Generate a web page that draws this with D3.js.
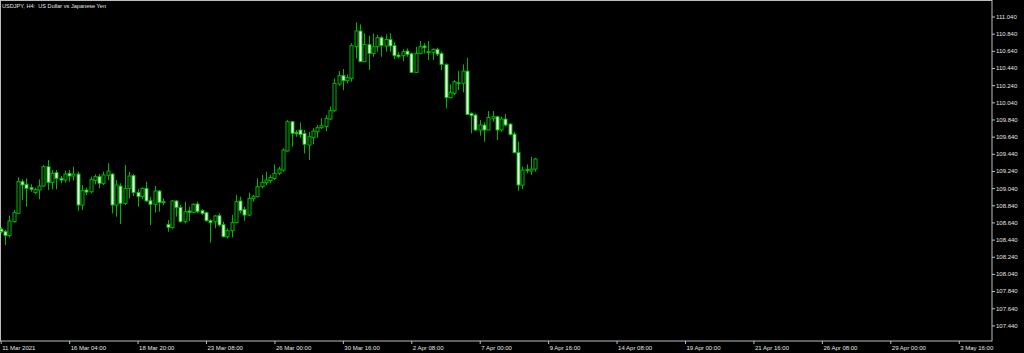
<!DOCTYPE html>
<html>
<head>
<meta charset="utf-8">
<script src="https://cdn.jsdelivr.net/npm/d3@7"></script>
<style>
  html, body { margin: 0; padding: 0; background: #000; }
  svg { display: block; }
  .axis text { fill: #e4e4e4; font-family: "Liberation Sans", Arial, sans-serif; font-size: 6px; }
  .axis line { stroke: #bdbdbd; }
  .axis path { display: none; }
</style>
</head>
<body>
<div id="chart"></div>
<script>
// USDJPY H4 candles
const open = [108.563,108.536,108.486,108.649,108.746,109.115,109.084,109.045,108.987,109.018,109.064,109.290,109.107,109.220,109.154,109.134,109.212,109.181,109.204,108.843,109.018,108.998,109.127,109.173,109.096,109.189,109.204,108.843,109.064,108.862,109.037,109.185,108.991,108.940,109.037,108.893,108.851,109.006,108.882,108.618,108.579,108.890,108.816,108.649,108.773,108.757,108.855,108.777,108.754,108.660,108.649,108.719,108.614,108.474,108.544,108.637,108.890,108.792,108.726,108.917,108.940,109.057,109.103,109.127,109.153,109.212,109.250,109.472,109.814,109.690,109.717,109.678,109.542,109.627,109.697,109.744,109.756,109.845,109.942,110.253,110.350,110.292,110.319,110.688,110.871,110.513,110.715,110.610,110.688,110.793,110.696,110.773,110.700,110.591,110.583,110.637,110.606,110.389,110.610,110.696,110.630,110.622,110.657,110.610,110.482,110.094,110.144,110.268,110.261,110.404,109.911,109.892,109.717,109.775,109.717,109.853,109.872,109.717,109.845,109.787,109.670,109.456,109.076,109.258,109.239,109.262];
const high = [108.583,108.552,108.719,108.785,109.165,109.142,109.154,109.084,109.045,109.142,109.309,109.367,109.251,109.251,109.181,109.243,109.251,109.290,109.231,109.076,109.045,109.173,109.200,109.204,109.231,109.329,109.212,109.134,109.096,109.309,109.231,109.204,109.026,109.049,109.115,108.940,109.064,109.018,108.921,108.668,108.901,108.901,108.843,108.882,108.824,108.862,108.882,108.792,108.765,108.676,108.726,108.746,108.649,108.571,108.726,108.960,108.940,108.824,108.987,108.960,109.154,109.193,109.231,109.193,109.317,109.289,109.503,109.833,109.822,109.717,109.806,109.717,109.697,109.736,109.775,109.853,109.892,109.989,110.319,110.404,110.428,110.366,110.727,110.972,110.948,110.843,110.816,110.843,110.824,110.816,110.832,110.843,110.738,110.622,110.657,110.668,110.622,110.688,110.754,110.727,110.754,110.668,110.676,110.630,110.494,110.249,110.299,110.404,110.482,110.560,109.923,109.911,109.833,109.806,109.938,109.938,109.884,109.872,109.903,109.794,109.697,109.581,109.289,109.317,109.406,109.394];
const low = [108.513,108.377,108.466,108.637,108.738,108.901,108.824,108.998,108.971,108.909,109.057,109.018,109.026,109.026,109.096,109.103,109.115,109.127,108.773,108.785,108.960,108.979,109.084,109.037,109.076,109.134,108.746,108.707,108.622,108.843,108.921,108.948,108.824,108.909,108.882,108.610,108.754,108.765,108.843,108.532,108.567,108.707,108.637,108.629,108.656,108.754,108.746,108.726,108.649,108.404,108.571,108.590,108.466,108.455,108.466,108.629,108.746,108.660,108.715,108.882,108.932,109.037,109.076,109.096,109.134,109.192,109.231,109.464,109.523,109.639,109.627,109.445,109.367,109.550,109.627,109.728,109.705,109.833,109.930,110.233,110.183,110.261,110.280,110.552,110.513,110.513,110.416,110.571,110.630,110.571,110.630,110.630,110.544,110.552,110.521,110.571,110.385,110.385,110.599,110.610,110.532,110.532,110.579,110.416,109.969,110.086,110.125,110.183,110.156,109.892,109.678,109.705,109.651,109.581,109.717,109.814,109.600,109.697,109.756,109.651,109.445,109.006,109.029,109.212,109.192,109.231];
const close = [108.532,108.486,108.656,108.754,109.115,109.076,109.037,109.026,109.026,109.064,109.290,109.107,109.212,109.154,109.134,109.204,109.181,109.204,108.843,109.010,108.994,109.142,109.173,109.096,109.193,109.239,108.843,109.076,108.862,109.037,109.181,108.987,108.940,109.037,108.890,108.851,109.006,108.874,108.870,108.583,108.890,108.812,108.649,108.765,108.757,108.851,108.765,108.746,108.660,108.637,108.715,108.610,108.474,108.544,108.637,108.882,108.777,108.726,108.921,108.940,109.057,109.107,109.134,109.165,109.212,109.262,109.484,109.814,109.678,109.674,109.666,109.550,109.639,109.705,109.744,109.767,109.853,109.942,110.261,110.350,110.292,110.327,110.700,110.871,110.513,110.715,110.610,110.688,110.793,110.700,110.773,110.696,110.583,110.571,110.630,110.599,110.389,110.610,110.688,110.676,110.618,110.657,110.602,110.482,110.094,110.156,110.280,110.257,110.404,109.899,109.884,109.717,109.775,109.717,109.864,109.872,109.717,109.845,109.775,109.666,109.453,109.076,109.250,109.243,109.262,109.379];

const priceTicks = [107.44,107.64,107.84,108.04,108.24,108.44,108.64,108.84,109.04,109.24,109.44,109.64,109.84,110.04,110.24,110.44,110.64,110.84,111.04];
const timeTickBars = [0,16,32,48,64,80,96,112,128,144,160,176,192,208,224];
const timeLabels = ["11 Mar 2021","16 Mar 04:00","18 Mar 20:00","23 Mar 08:00","26 Mar 00:00","30 Mar 16:00","2 Apr 08:00","7 Apr 00:00","9 Apr 16:00","14 Apr 08:00","19 Apr 00:00","21 Apr 16:00","26 Apr 08:00","29 Apr 00:00","3 May 16:00"];
const title = "USDJPY, H4:  US Dollar vs Japanese Yen";

const W = 1024, H = 353;
const plotRight = 992, plotBottom = 341;

const svg = d3.select("#chart").append("svg")
    .attr("width", W).attr("height", H)
    .style("background", "#000");

// bar index -> x, price -> y
const x = d3.scaleLinear().domain([0, 224]).range([0.7, 0.7 + 224 * 4.277]);
const y = d3.scaleLinear().domain([107.44, 111.04]).range([325.4, 16.5]);

const bars = open.map((o, i) => ({i, o, h: high[i], l: low[i], c: close[i]}));

// frame
svg.append("rect")
    .attr("x", 0.5).attr("y", 0.5)
    .attr("width", plotRight - 0.5).attr("height", plotBottom - 0.5)
    .attr("fill", "none").attr("stroke", "#bdbdbd").attr("stroke-width", 1);

const green = "#00b800";

const g = svg.append("g");
// wicks
g.selectAll(".wick").data(bars).enter().append("line")
    .attr("class", "wick")
    .attr("x1", d => Math.round(x(d.i)) + 0.5)
    .attr("x2", d => Math.round(x(d.i)) + 0.5)
    .attr("y1", d => y(d.h))
    .attr("y2", d => y(d.l))
    .attr("stroke", green).attr("stroke-width", 1);

// bodies: hollow = up, white = down
g.selectAll(".body").data(bars).enter().append("rect")
    .attr("class", "body")
    .attr("x", d => Math.round(x(d.i)) - 1)
    .attr("width", 3)
    .attr("y", d => y(Math.max(d.o, d.c)))
    .attr("height", d => Math.max(0.8, Math.abs(y(d.o) - y(d.c))))
    .attr("fill", d => d.c >= d.o ? "#000" : "#f2fff2")
    .attr("stroke", green).attr("stroke-width", 1);

// price axis
svg.append("g")
    .attr("class", "axis")
    .attr("transform", `translate(${plotRight},0)`)
    .call(d3.axisRight(y).tickValues(priceTicks).tickFormat(d3.format(".3f")).tickSize(3).tickPadding(1));

// time axis
const xAxis = svg.append("g")
    .attr("class", "axis")
    .attr("transform", `translate(0,${plotBottom})`)
    .call(d3.axisBottom(x).tickValues(timeTickBars).tickFormat((d, i) => timeLabels[i]).tickSize(3).tickPadding(1));
xAxis.selectAll("text")
    .attr("text-anchor", "start")
    .attr("x", 1)
    .attr("dy", "0.9em");

svg.append("text")
    .attr("x", 2).attr("y", 8)
    .attr("fill", "#e4e4e4")
    .style("font-family", "Liberation Sans, Arial, sans-serif")
    .style("font-size", "5.6px")
    .style("white-space", "pre")
    .text(title);
</script>
</body>
</html>
